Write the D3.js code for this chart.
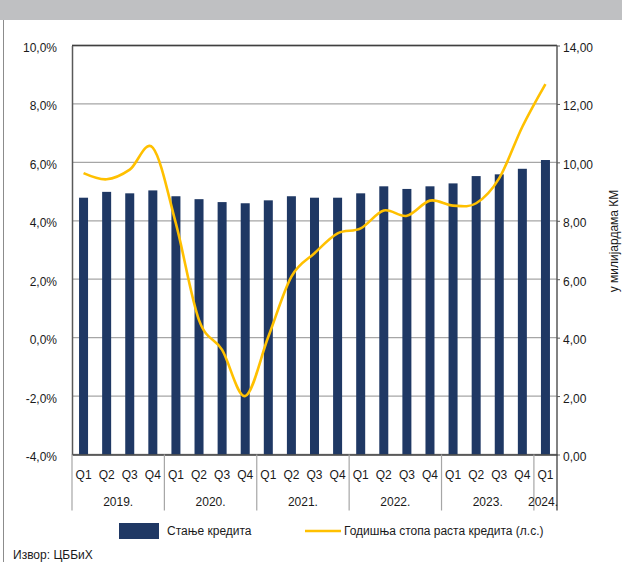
<!DOCTYPE html>
<html>
<head>
<meta charset="utf-8">
<script src="https://cdn.jsdelivr.net/npm/d3@7"></script>
<style>
  html, body { margin: 0; padding: 0; background: #fff; }
  svg { display: block; font-family: "Liberation Sans", Arial, sans-serif; }
  text { fill: #1a1a1a; }
</style>
</head>
<body>
<svg id="chart" width="622" height="562"></svg>
<script>
// ---- data ----
const quarters = ["Q1","Q2","Q3","Q4","Q1","Q2","Q3","Q4","Q1","Q2","Q3","Q4",
                  "Q1","Q2","Q3","Q4","Q1","Q2","Q3","Q4","Q1"];
const years = ["2019.","2020.","2021.","2022.","2023.","2024."];
const yearQuarterCount = [4,4,4,4,4,1];
// Стање кредита (у милијардама КМ, right axis)
const creditStock = [8.79,8.99,8.94,9.04, 8.84,8.74,8.64,8.60, 8.70,8.84,8.79,8.79,
                     8.94,9.18,9.09,9.18, 9.28,9.53,9.59,9.78, 10.08];
// Годишња стопа раста кредита (%, left axis)
const creditGrowth = [5.63,5.42,5.75,6.50, 3.90,0.60,-0.42,-2.00, 0.03,2.09,2.89,3.57,
                      3.74,4.35,4.17,4.69, 4.52,4.60,5.46,7.22, 8.68];
const leftTicks = [-4,-2,0,2,4,6,8,10];
const rightTicks = [0,2,4,6,8,10,12,14];
const legendLabels = ["Стање кредита","Годишња стопа раста кредита (л.с.)"];
const rightAxisTitle = "у милијардама КМ";
const sourceText = "Извор: ЦББиХ";

// ---- layout ----
const svg = d3.select("#chart");
const L = 72, R = 557, T = 45.5, B = 454.5;
const barColor = "#1f3864", lineColor = "#ffc000";

// top grey band and left frame line
svg.append("rect").attr("x",0).attr("y",0).attr("width",622).attr("height",20).attr("fill","#bfc0c2");
svg.append("line").attr("x1",3.5).attr("x2",3.5).attr("y1",20).attr("y2",562)
   .attr("stroke","#8c8c8c").attr("stroke-width",1);

const idx = quarters.map((q,i)=>i);
const x = d3.scaleBand().domain(idx).range([L,R]).paddingInner(0.61).paddingOuter(0.305);
const yL = d3.scaleLinear().domain([-4,10]).range([B,T]);
const yR = d3.scaleLinear().domain([0,14]).range([B,T]);

// gridlines
svg.append("g").selectAll("line").data(leftTicks).join("line")
  .attr("x1",L).attr("x2",R).attr("y1",d=>yL(d)).attr("y2",d=>yL(d))
  .attr("stroke","#a6a6a6").attr("stroke-width",1.3);

// bars
svg.append("g").selectAll("rect").data(creditStock).join("rect")
  .attr("x",(d,i)=>x(i)).attr("width",x.bandwidth())
  .attr("y",d=>yR(d)).attr("height",d=>yR(0)-yR(d))
  .attr("fill",barColor);

// line
const line = d3.line()
  .x((d,i)=>x(i)+x.bandwidth()/2)
  .y(d=>yL(d))
  .curve(d3.curveCatmullRom.alpha(0));
svg.append("path").datum(creditGrowth).attr("d",line)
  .attr("fill","none").attr("stroke",lineColor).attr("stroke-width",2.6)
  .attr("stroke-linejoin","round");

// frame line (top)
svg.append("line").attr("x1",L).attr("x2",R).attr("y1",T).attr("y2",T)
  .attr("stroke","#404040").attr("stroke-width",1.3);

// left axis
const fmtL = v => (v<0?"-":"") + Math.abs(v).toFixed(1).replace(".",",") + "%";
const gL = svg.append("g").attr("transform",`translate(${L},0)`)
  .call(d3.axisLeft(yL).tickValues(leftTicks).tickFormat(fmtL).tickSize(0).tickPadding(15));
gL.select(".domain").attr("stroke","#595959").attr("stroke-width",1.5);
gL.selectAll("text").attr("font-size",12).attr("dy","0.5em")
  .attr("font-family","Liberation Sans, Arial, sans-serif").attr("fill","#1a1a1a");

// right axis
const fmtR = v => v.toFixed(2).replace(".",",");
const gR = svg.append("g").attr("transform",`translate(${R},0)`)
  .call(d3.axisRight(yR).tickValues(rightTicks).tickFormat(fmtR).tickSize(3).tickPadding(3));
gR.select(".domain").attr("stroke","#595959").attr("stroke-width",1.5).attr("d",`M0,${T}V${B+56}`);
gR.selectAll(".tick line").attr("stroke","#595959");
gR.selectAll("text").attr("font-size",12).attr("dy","0.5em")
  .attr("font-family","Liberation Sans, Arial, sans-serif").attr("fill","#1a1a1a");

// bottom axis (quarters)
const gB = svg.append("g").attr("transform",`translate(0,${B})`)
  .call(d3.axisBottom(x).tickFormat(i=>quarters[i]).tickSize(0).tickPadding(16));
gB.select(".domain").attr("stroke","#404040").attr("stroke-width",1.3);
gB.selectAll("text").attr("font-size",12).attr("font-family","Liberation Sans, Arial, sans-serif").attr("fill","#1a1a1a");

// year groups
const step = x.step(), half = step*x.paddingInner()/2;
let start = 0;
const groups = years.map((yname,k)=>{
  const s = start, e = start + yearQuarterCount[k] - 1;
  start += yearQuarterCount[k];
  return {name:yname, x0: x(s)-half, x1: x(e)+x.bandwidth()+half};
});
const gY = svg.append("g");
gY.selectAll("line").data(groups).join("line")
  .attr("x1",d=>d.x0).attr("x2",d=>d.x0).attr("y1",B).attr("y2",B+56)
  .attr("stroke","#a6a6a6").attr("stroke-width",1.2);
gY.selectAll("text").data(groups).join("text")
  .attr("x",d=>Math.min((d.x0+d.x1)/2, R-14)).attr("y",506)
  .attr("text-anchor","middle").attr("font-size",12).text(d=>d.name);

// right axis title
svg.append("text").attr("transform","translate(618,241) rotate(-90)")
  .attr("text-anchor","middle").attr("font-size",12).text(rightAxisTitle);

// legend
svg.append("rect").attr("x",119).attr("y",523).attr("width",40).attr("height",16).attr("fill",barColor);
svg.append("text").attr("x",167).attr("y",535).attr("font-size",12).text(legendLabels[0]);
svg.append("line").attr("x1",305).attr("x2",341).attr("y1",531).attr("y2",531)
  .attr("stroke",lineColor).attr("stroke-width",2.6);
svg.append("text").attr("x",344).attr("y",535).attr("font-size",12).text(legendLabels[1]);

// source
svg.append("text").attr("x",13).attr("y",559).attr("font-size",12).text(sourceText);
</script>
</body>
</html>
